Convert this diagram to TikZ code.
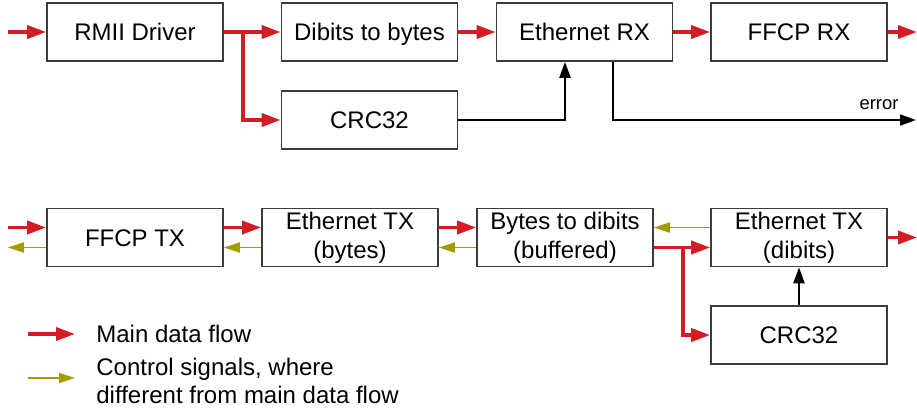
\documentclass[tikz,border=0pt]{standalone}
\usepackage{fontspec}
\setmainfont{Liberation Sans}
\usetikzlibrary{arrows.meta}
\definecolor{flowred}{HTML}{D41C24}
\definecolor{ctrlolive}{HTML}{A39C00}
\definecolor{boxgray}{HTML}{3C3C3C}
\begin{document}
\begin{tikzpicture}[x=0.5pt,y=-0.5pt,
  block/.style={draw=boxgray,line width=0.8pt,fill=white,minimum width=88pt,minimum height=29pt,
    inner sep=0pt,align=center,font=\fontsize{12}{14.5}\selectfont},
  oneline/.style={block,text height=11.2pt,text depth=2.6pt},
  dataflow/.style={draw=flowred,line width=1.8pt,-{Triangle[length=9.5pt,width=6.5pt]}},
  ctrlflow/.style={draw=ctrlolive,line width=0.9pt,-{Triangle[length=8pt,width=5pt]}},
  sigflow/.style={draw=black,line width=1pt,-{Triangle[length=8pt,width=5.5pt]}},
  legendtext/.style={anchor=west,inner sep=0pt,align=left,font=\fontsize{12}{14}\selectfont}]
\useasboundingbox (0,0) rectangle (917,409);

% receive path
\node[oneline] (rmii)  at (135,32)    {RMII Driver};
\node[oneline] (d2b)   at (369.5,32)  {Dibits to bytes};
\node[oneline] (crcrx) at (369.5,120) {CRC32};
\node[oneline] (ethrx) at (584.5,32)  {Ethernet RX};
\node[oneline] (ffrx)  at (799,32)    {FFCP RX};

\coordinate (rxin)  at (8,32);
\coordinate (rxout) at (917,32);
\coordinate (errout) at (916,120);

\draw[dataflow] (rxin) -- (rmii.west);
\draw[dataflow] (rmii.east) -- (d2b.west);
\draw[dataflow] (rmii.east) -- ++(9.5pt,0) |- (crcrx.west);
\draw[dataflow] (d2b.east) -- (ethrx.west);
\draw[dataflow] (ethrx.east) -- (ffrx.west);
\draw[dataflow] (ffrx.east) -- (rxout);
\draw[sigflow] (crcrx.east) -| ([xshift=-9.75pt]ethrx.south);
\draw[sigflow] ([xshift=14.25pt]ethrx.south) |- (errout);
\node[font=\fontsize{9.2}{11}\selectfont,inner sep=0pt] (errlbl) at (879,105) {error};

% transmit path
\node[oneline] (fftx)  at (135,237.5) {FFCP TX};
\node[block] (ethtb) at (350,237.5) {Ethernet TX\\(bytes)};
\node[block] (b2d)   at (565,237.5) {Bytes to dibits\\(buffered)};
\node[block] (ethtd) at (799,237.5) {Ethernet TX\\(dibits)};
\node[oneline] (crctx) at (799,335)   {CRC32};

\coordinate (txin)   at (8,227.5);
\coordinate (txback) at (8,247.5);
\coordinate (txout)  at (917,237.5);

\draw[dataflow] (txin) -- ([yshift=5pt]fftx.west);
\draw[ctrlflow] ([yshift=-5pt]fftx.west) -- (txback);
\draw[dataflow] ([yshift=5pt]fftx.east) -- ([yshift=5pt]ethtb.west);
\draw[ctrlflow] ([yshift=-5pt]ethtb.west) -- ([yshift=-5pt]fftx.east);
\draw[dataflow] ([yshift=5pt]ethtb.east) -- ([yshift=5pt]b2d.west);
\draw[ctrlflow] ([yshift=-5pt]b2d.west) -- ([yshift=-5pt]ethtb.east);
\draw[ctrlflow] ([yshift=5pt]ethtd.west) -- ([yshift=5pt]b2d.east);
\draw[dataflow] ([yshift=-5pt]b2d.east) -- ([yshift=-5pt]ethtd.west);
\draw[dataflow] ([yshift=-5pt]b2d.east) -- ++(14.5pt,0) |- (crctx.west);
\draw[sigflow] (crctx.north) -- (ethtd.south);
\draw[dataflow] (ethtd.east) -- (txout);

% legend
\coordinate (lgdata0) at (28,334);
\coordinate (lgdata1) at (75,334);
\coordinate (lgctrl0) at (28,378);
\coordinate (lgctrl1) at (75,378);
\draw[dataflow] (lgdata0) -- (lgdata1);
\draw[ctrlflow] (lgctrl0) -- (lgctrl1);
\node[legendtext] (lgdatatxt) at (96,334) {Main data flow};
\node[legendtext] (lgctrltxt) at (96,381) {Control signals, where\\different from main data flow};
\end{tikzpicture}
\end{document}
